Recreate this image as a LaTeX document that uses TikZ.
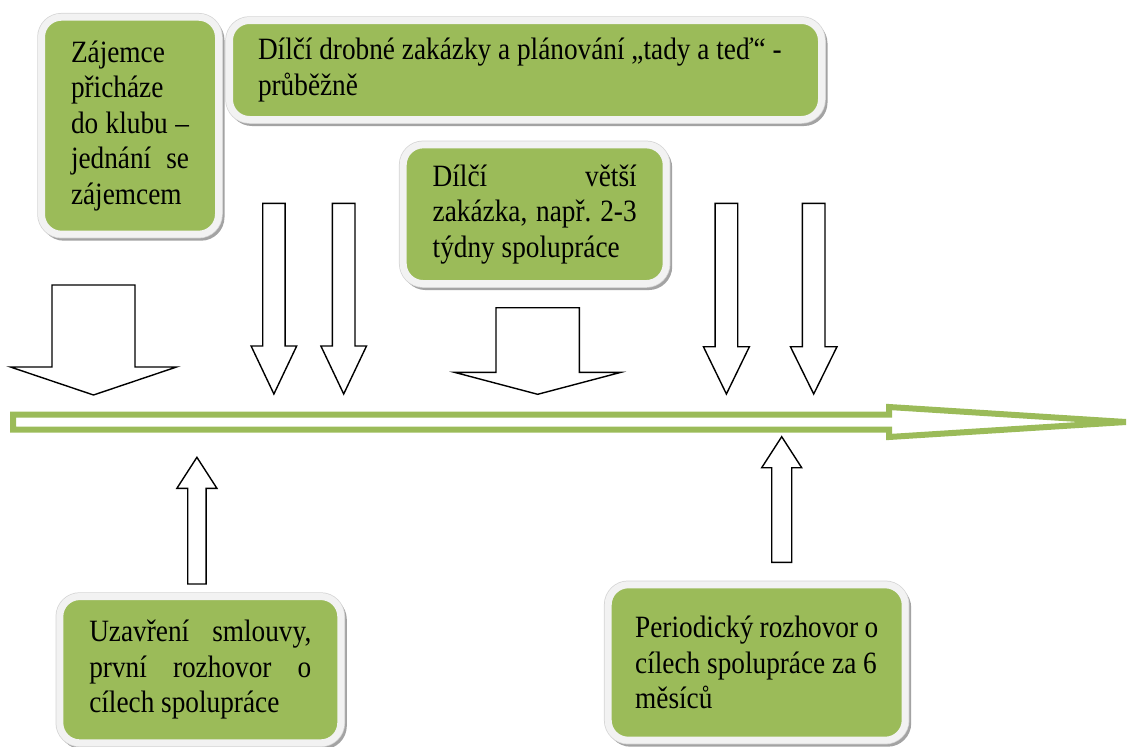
\documentclass[tikz,border=0pt]{standalone}
\usepackage{fontspec}
\setmainfont{Liberation Serif}[FakeStretch=0.88]
\usepackage{xcolor}
\definecolor{boxgreen}{HTML}{9BBB59}
\definecolor{framegray}{HTML}{F2F2F2}
\definecolor{edgegray}{HTML}{D4D4D4}
\definecolor{shadowgray}{HTML}{A3A3A3}
\newcommand{\boxfont}{\fontsize{31}{35.5}\selectfont}
\tikzset{
	greenbox/.style={fill=boxgreen, draw=framegray, line width=7pt, rounded corners=20pt,
		preaction={draw=shadowgray, fill=shadowgray, line width=7pt, transform canvas={xshift=2.5pt,yshift=-3pt}},
		preaction={draw=edgegray, line width=8.5pt},
		align=justify, inner sep=0pt, font=\boxfont,
		execute at begin node={\hyphenpenalty=10000\relax\frenchspacing}},
	blockarrow/.style={draw=black, fill=white, line width=1.4pt, line join=miter},
	timeline/.style={draw=boxgreen, fill=white, line width=6pt, line join=miter}}

\begin{document}
\begin{tikzpicture}[x=1pt, y=-1pt]
	\useasboundingbox (0,0) rectangle (1130,747);

	% time axis
	\draw[timeline] (13,414.7) -- (889,414.7) -- (889,407) -- (1126,422)
		-- (889,437) -- (889,429.5) -- (13,429.5) -- cycle;

	% block arrows: centre / shaft / head / base / shoulder / tip
	\foreach \cx/\sw/\hw/\base/\sh/\tip in {
		93.5/41.5/83/285/367/395,
		537.7/41.7/83.3/307.7/372.3/394.3,
		273.9/11.2/22.8/203.3/346/394,
		343.7/11.3/22.8/203.3/346/394,
		726.4/11.3/23/203.3/346.7/394,
		813.7/11.3/23.3/203.3/346.7/394,
		196.9/9.2/20/584/488.3/457.3,
		781.7/10/20/562.3/467.7/436.7}
		\draw[blockarrow] (\cx-\sw,\base) -- (\cx+\sw,\base) -- (\cx+\sw,\sh) -- (\cx+\hw,\sh)
			-- (\cx,\tip) -- (\cx-\hw,\sh) -- (\cx-\sw,\sh) -- cycle;

	\node[greenbox, minimum width=177pt, minimum height=217pt, text width=118pt] (zajemce) at (130,125.7)
		{Zájemce\\ přicháze\\ do klubu –\linebreak jednání se\linebreak zájemcem};
	\node[greenbox, minimum width=592pt, minimum height=99pt, text width=535pt] (drobne) at (525.5,70)
		{Dílčí drobné zakázky a plánování „tady a teď“ -\\ průběžně};
	\node[greenbox, minimum width=263pt, minimum height=138.7pt, text width=204pt] (vetsi) at (534.7,214.2)
		{Dílčí větší\linebreak zakázka, např. 2-3\linebreak týdny spolupráce};
	\node[greenbox, minimum width=281pt, minimum height=146.3pt, text width=222pt] (smlouva) at (200.3,669.7)
		{Uzavření smlouvy,\linebreak první rozhovor o\linebreak cílech spolupráce};
	\node[greenbox, minimum width=297pt, minimum height=155.4pt, text width=243pt] (periodicky) at (756.7,662.5)
		{Periodický rozhovor o\\ cílech spolupráce za 6\\ měsíců\par\vspace{14pt}};
\end{tikzpicture}
\end{document}
